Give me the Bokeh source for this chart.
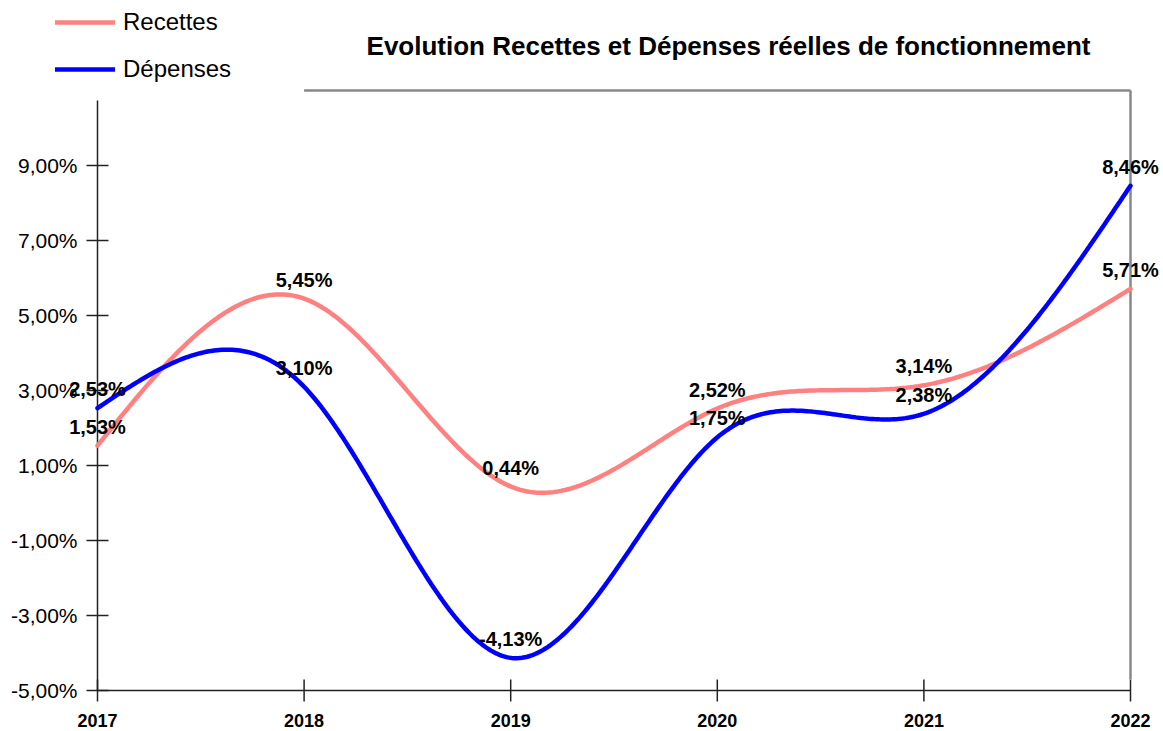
import numpy as np
from bokeh.plotting import figure
from bokeh.models import (Range1d, Label, ColumnDataSource, Legend, LegendItem)
from bokeh.core.properties import value
from bokeh.embed import file_html
from bokeh.resources import INLINE

# ---- data ----
years = [2017, 2018, 2019, 2020, 2021, 2022]
recettes = [1.53, 5.45, 0.44, 2.52, 3.14, 5.71]
depenses = [2.53, 3.10, -4.13, 1.75, 2.38, 8.46]
y_ticks = [-5, -3, -1, 1, 3, 5, 7, 9]
y_min, y_max = -5, 11
title_text = "Evolution Recettes et Dépenses réelles de fonctionnement"
series_names = ["Recettes", "Dépenses"]

FONT = "Liberation Sans"
C_REC = "#FF8080"
C_DEP = "#0000FF"
C_AX = "#222222"
C_BORDER = "#888888"

# ---- layout (pixels) ----
W, H = 1163, 731
PX_L, PX_R, PX_T, PX_B = 97, 1130, 90, 690
sx = (PX_R - PX_L) / (years[-1] - years[0])      # px per year
sy = (PX_B - PX_T) / (y_max - y_min)              # px per percent
x0 = years[0] - PX_L / sx
x1 = years[-1] + (W - PX_R) / sx
y0 = y_min - (H - PX_B) / sy
y1 = y_max + PX_T / sy


def natural_spline(xs, ys, n=400):
    xs = np.asarray(xs, float)
    ys = np.asarray(ys, float)
    k = len(xs)
    h = np.diff(xs)
    A = np.zeros((k, k))
    b = np.zeros(k)
    A[0, 0] = 1
    A[-1, -1] = 1
    for i in range(1, k - 1):
        A[i, i - 1] = h[i - 1]
        A[i, i] = 2 * (h[i - 1] + h[i])
        A[i, i + 1] = h[i]
        b[i] = 3 * ((ys[i + 1] - ys[i]) / h[i] - (ys[i] - ys[i - 1]) / h[i - 1])
    c = np.linalg.solve(A, b)
    bb = np.zeros(k - 1)
    d = np.zeros(k - 1)
    for i in range(k - 1):
        bb[i] = (ys[i + 1] - ys[i]) / h[i] - h[i] * (2 * c[i] + c[i + 1]) / 3
        d[i] = (c[i + 1] - c[i]) / (3 * h[i])
    xx = np.linspace(xs[0], xs[-1], n)
    idx = np.clip(np.searchsorted(xs, xx, side="right") - 1, 0, k - 2)
    dx = xx - xs[idx]
    yy = ys[idx] + bb[idx] * dx + c[idx] * dx ** 2 + d[idx] * dx ** 3
    return xx, yy


def fmt(v):
    return ("%.2f" % v).replace(".", ",") + "%"


p = figure(width=W, height=H, output_backend="svg", toolbar_location=None,
           x_range=Range1d(x0, x1), y_range=Range1d(y0, y1),
           x_axis_location=None, y_axis_location=None,
           min_border=0, min_border_left=0, min_border_right=0,
           min_border_top=0, min_border_bottom=0)
p.outline_line_color = None
p.grid.visible = False
p.background_fill_color = "white"
p.border_fill_color = "white"

tick_px = 11
# ---- axes drawn through the data scales ----
# x axis line + ticks
p.segment(x0=[years[0]], y0=[y_min], x1=[years[-1]], y1=[y_min],
          line_color=C_AX, line_width=1.5)
p.segment(x0=years, y0=[y_min - tick_px / sy] * len(years),
          x1=years, y1=[y_min + tick_px / sy] * len(years),
          line_color=C_AX, line_width=1.5)
p.text(x=years, y=[y_min] * len(years), text=[str(v) for v in years],
       y_offset=30, text_align="center", text_baseline="middle",
       text_font=value(FONT), text_font_style="bold", text_font_size="18px",
       text_color="black")
# y axis line + ticks
p.segment(x0=[years[0]], y0=[y_min], x1=[years[0]], y1=[y_max - 10 / sy],
          line_color=C_AX, line_width=1.5)
p.segment(x0=[years[0] - tick_px / sx] * len(y_ticks), y0=y_ticks,
          x1=[years[0] + tick_px / sx] * len(y_ticks), y1=y_ticks,
          line_color=C_AX, line_width=1.5)
p.text(x=[years[0]] * len(y_ticks), y=y_ticks, text=[fmt(v) for v in y_ticks],
       x_offset=-20, text_align="right", text_baseline="middle",
       text_font=value(FONT), text_font_size="21px", text_color="black")

# grey frame lines (top from 2018, right side)
p.segment(x0=[years[1], years[-1]], y0=[y_max, y_max],
          x1=[years[-1], years[-1]], y1=[y_max, y_min + tick_px / sy],
          line_color=C_BORDER, line_width=2.5)

# ---- curves ----
xr, yr = natural_spline(years, recettes)
xd, yd = natural_spline(years, depenses)
r_rec = p.line(xr, yr, line_color=C_REC, line_width=4.5, line_cap="round")
r_dep = p.line(xd, yd, line_color=C_DEP, line_width=4.5, line_cap="round")

# ---- data labels ----
src = ColumnDataSource(dict(
    x=years + years,
    y=recettes + depenses,
    t=[fmt(v) for v in recettes] + [fmt(v) for v in depenses],
))
p.text(x="x", y="y", text="t", source=src, y_offset=-19,
       text_align="center", text_baseline="middle",
       text_font=value(FONT), text_font_style="bold",
       text_font_size="20px", text_color="black")

# ---- title ----
p.add_layout(Label(x=728, y=H - 45, x_units="screen", y_units="screen",
                   text=title_text, text_align="center", text_baseline="middle",
                   text_font=FONT, text_font_style="bold", text_font_size="26px",
                   text_color="black"))

# ---- legend ----
legend = Legend(items=[LegendItem(label=series_names[0], renderers=[r_rec]),
                       LegendItem(label=series_names[1], renderers=[r_dep])],
                location=(55, H - 10.5 - 71 - 1), orientation="vertical",
                glyph_width=60, glyph_height=24, label_height=24,
                label_standoff=8, spacing=19, padding=0, margin=0,
                border_line_color=None, background_fill_alpha=0,
                label_text_font=FONT, label_text_font_size="24px",
                label_text_color="black", label_text_baseline="middle")
p.add_layout(legend)

open("out.html", "w").write(file_html(p, INLINE))
